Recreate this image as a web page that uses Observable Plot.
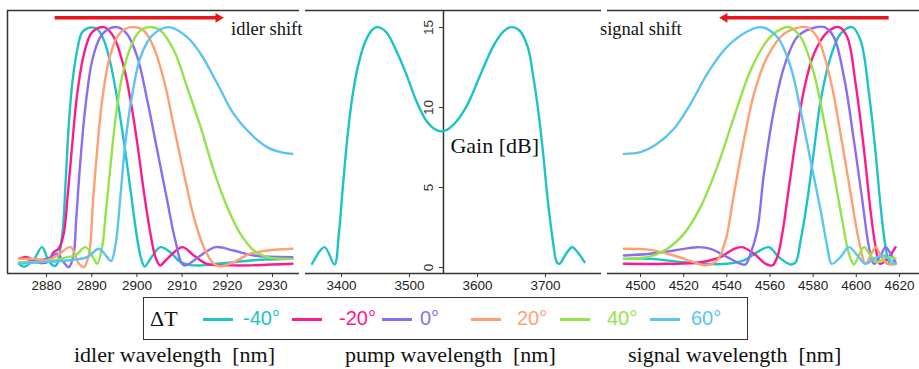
<!DOCTYPE html>
<html><head><meta charset="utf-8">
<script src="https://cdn.jsdelivr.net/npm/d3@7"></script>
<script src="https://cdn.jsdelivr.net/npm/@observablehq/plot@0.6"></script>
<style>
body{margin:0;background:#fff;}
#wrap{position:relative;width:919px;height:369px;overflow:hidden;background:#fff;font-family:"Liberation Sans",Arial,sans-serif;}
.abs{position:absolute;white-space:pre;line-height:1;}
.serif{font-family:"Liberation Serif","Times New Roman",serif;color:#111;}
</style></head><body><div id="wrap"></div>
<script>
// ---- legend / series ----
const seriesNames = ["-40°","-20°","0°","20°","40°","60°"];
const seriesColors = ["#1DC3C6","#FF1A8C","#8C6DF2","#FF9F72","#95E34A","#5CC3F5"];

// ---- tick labels ----
const idlerTicks = [2880,2890,2900,2910,2920,2930];
const pumpTicks = [3400,3500,3600,3700];
const signalTicks = [4500,4520,4540,4560,4580,4600,4620];
const gainTicks = [0,5,10,15];

// ---- idler panel (nm, dB) ----
const idlerX_m40 = [2873.9,2875.0,2877.2,2879.0,2880.6,2882.0,2883.5,2884.2,2884.9,2885.7,2886.8,2887.9,2889.7,2891.2,2892.7,2894.2,2895.6,2897.1,2898.6,2899.7,2900.8,2901.7,2903.0,2905.2,2907.4,2909.6,2911.9,2914.1,2917.8,2921.4,2925.1,2928.8,2934.4];
const idlerY_m40 = [0.23,0.05,0.5,1.27,0.35,0.1,2.1,5.2,8.8,11.5,13.6,14.7,15.0,14.9,14.2,12.7,10.6,7.9,4.8,2.5,0.7,0.06,0.55,1.27,0.95,0.35,0.15,0.13,0.23,0.33,0.44,0.5,0.55];
const idlerX_m20 = [2873.9,2875.7,2877.9,2880.1,2881.6,2882.7,2883.8,2884.6,2885.7,2886.8,2888.3,2890.1,2892.7,2894.9,2897.1,2898.6,2900.1,2901.5,2903.0,2904.1,2905.1,2906.7,2910.0,2912.6,2915.5,2921.4,2934.4];
const idlerY_m20 = [0.54,0.65,0.33,0.33,0.96,1.17,2.1,4.19,7.73,10.86,13.36,14.71,15.02,14.4,12.52,10.44,7.73,4.81,2.1,0.65,0.13,0.54,1.27,0.75,0.23,0.13,0.23];
const idlerX_0 = [2873.9,2877.2,2880.1,2882.4,2883.8,2884.9,2885.9,2886.6,2887.5,2888.6,2890.1,2891.9,2893.8,2895.6,2897.8,2900.1,2902.3,2904.5,2906.7,2908.5,2910.4,2914.1,2917.4,2921.4,2925.9,2934.4];
const idlerY_0 = [0.23,0.44,0.54,0.86,0.33,0.02,0.65,3.15,6.69,10.02,12.94,14.4,14.92,15.02,14.6,13.15,10.44,7.32,4.19,1.69,0.13,0.75,1.27,1.06,0.75,0.65];
const idlerX_20 = [2873.9,2877.2,2880.1,2882.4,2885.3,2887.2,2888.3,2889.4,2890.3,2891.2,2892.3,2893.8,2895.6,2897.5,2899.2,2901.5,2903.7,2906.0,2908.2,2910.4,2912.6,2914.8,2917.0,2918.5,2921.4,2925.1,2928.8,2934.4];
const idlerY_20 = [0.54,0.54,0.44,0.75,1.27,0.23,0.02,0.86,4.19,7.32,10.44,12.94,14.4,14.92,15.02,14.81,13.77,11.69,8.77,5.86,3.15,1.27,0.23,0.08,0.33,0.86,1.06,1.17];
const idlerX_40 = [2873.9,2877.9,2881.6,2884.6,2886.4,2888.6,2890.5,2891.2,2892.3,2893.1,2894.2,2895.3,2896.7,2898.6,2900.4,2902.6,2905.2,2908.2,2911.1,2914.1,2917.0,2920.0,2922.9,2925.9,2928.8,2934.4];
const idlerY_40 = [0.33,0.33,0.44,0.65,0.75,1.27,0.54,0.23,1.27,3.36,6.48,9.4,11.9,13.77,14.71,15.02,14.81,13.56,11.27,8.77,6.06,3.77,2.1,1.06,0.65,0.54];
const idlerX_60 = [2873.9,2878.7,2884.6,2889.0,2891.6,2893.4,2894.3,2895.3,2896.4,2897.5,2899.0,2900.8,2903.4,2907.1,2911.1,2914.1,2917.8,2921.4,2925.1,2928.8,2931.8,2934.4];
const idlerY_60 = [0.23,0.33,0.44,0.65,1.17,0.65,0.4,1.48,4.6,7.94,10.86,13.15,14.5,15.02,14.4,13.36,11.48,9.6,8.36,7.52,7.21,7.1];

// ---- pump panel ----
const pumpX = [3356.9,3375.0,3389.7,3396.1,3402.0,3409.3,3416.7,3424.0,3433.8,3443.6,3452.0,3465.7,3480.4,3495.1,3509.8,3524.5,3539.2,3550.0,3563.7,3583.3,3602.9,3622.5,3637.3,3649.5,3661.8,3674.0,3681.4,3688.7,3696.1,3703.4,3710.8,3716.7,3720.6,3730.4,3739.2,3749.0,3757.4];
const pumpY = [0.23,1.27,0.19,2.1,5.02,8.36,10.86,12.52,13.98,14.77,15.02,14.71,13.56,12.1,10.44,9.19,8.6,8.52,8.88,10.02,11.9,13.77,14.71,15.02,14.81,13.77,12.1,10.02,7.32,4.19,1.69,0.33,0.23,0.86,1.27,0.86,0.33];

// ---- signal panel ----
const signalX_m40 = [4492.3,4504.6,4520.1,4527.8,4540.2,4547.9,4554.1,4559.5,4564.1,4569.6,4571.9,4574.2,4577.3,4580.4,4583.5,4588.1,4592.7,4598.1,4602.0,4605.9,4609.0,4611.3,4613.6,4615.6,4618.2];
const signalY_m40 = [0.54,0.54,0.33,0.23,0.23,0.44,0.96,1.27,0.65,0.19,0.33,1.69,4.19,7.32,10.44,13.15,14.6,15.02,14.19,10.86,7.1,3.77,1.27,0.23,0.23];
const signalX_m20 = [4492.3,4512.4,4527.8,4537.1,4543.3,4547.1,4552.6,4558.0,4561.1,4563.4,4565.7,4568.8,4571.9,4575.7,4580.4,4586.6,4592.0,4595.8,4599.7,4603.6,4606.6,4609.0,4611.0,4614.4,4618.2];
const signalY_m20 = [0.23,0.23,0.33,0.65,1.17,1.27,0.86,0.23,0.13,0.65,2.1,5.02,7.94,11.06,13.36,14.71,15.02,14.4,11.48,7.32,3.56,1.27,0.23,0.54,1.27];
const signalX_0 = [4492.3,4504.6,4515.5,4526.3,4532.5,4540.2,4546.4,4548.7,4551.0,4554.1,4557.2,4561.8,4566.5,4572.6,4578.8,4585.3,4589.6,4594.3,4598.9,4602.8,4605.9,4608.2,4611.3,4613.6,4615.9,4618.2];
const signalY_0 = [0.75,0.86,1.06,1.27,1.17,0.65,0.23,0.19,0.86,2.31,5.86,9.81,12.52,14.4,14.92,15.02,14.4,11.9,7.94,4.19,1.27,0.23,0.75,1.27,0.86,0.33];
const signalX_20 = [4492.3,4504.6,4515.5,4524.7,4530.1,4535.5,4539.4,4543.3,4547.9,4552.6,4558.7,4566.5,4576.8,4581.9,4588.1,4592.7,4597.4,4601.2,4604.3,4606.6,4609.0,4611.3,4614.4,4618.2];
const signalY_20 = [1.17,1.1,0.75,0.33,0.13,0.44,1.69,4.6,7.94,10.86,13.15,14.6,15.02,14.4,11.69,8.36,4.6,1.69,0.23,0.75,1.27,0.75,0.23,0.23];
const signalX_40 = [4492.3,4504.6,4512.4,4520.1,4527.8,4535.5,4543.3,4551.0,4558.7,4563.4,4568.8,4574.2,4580.4,4585.0,4589.6,4593.5,4596.6,4598.9,4601.2,4603.6,4606.6,4609.7,4614.4,4618.2];
const signalY_40 = [0.54,0.69,1.17,2.1,3.77,6.27,9.4,12.31,14.19,14.77,15.02,14.4,12.1,9.19,5.86,2.94,0.86,0.19,0.75,1.27,0.75,0.33,0.65,0.54];
const signalX_60 = [4492.3,4500.0,4507.7,4515.5,4523.2,4530.9,4538.6,4546.4,4555.6,4563.4,4569.6,4574.2,4578.8,4583.5,4586.6,4588.6,4592.7,4596.6,4600.5,4604.3,4608.2,4612.8,4615.9,4618.2];
const signalY_60 = [7.1,7.21,7.73,8.67,10.23,12.1,13.56,14.5,15.02,14.4,12.52,9.81,6.69,3.56,1.27,0.23,0.65,1.27,0.75,0.23,0.54,0.75,0.44,0.23];

// ---- annotation arrows (nm, dB); head at x2 ----
const idlerArrow = [{x1: 2881.8, x2: 2918.0, y: 15.6, dir: 90}];
const signalArrow = [{x1: 4615.0, x2: 4539.0, y: 15.6, dir: -90}];

// ---------------------------------------------------------------
const wrap = document.getElementById("wrap");
const H = 300, TOP = 10, BOTTOM_Y = 273;
const yDomain = [-0.375, 16.06];
const axisColor = "#333";
const red = "#E5161C";

const rows = (xs, ys) => xs.map((x, i) => ({x, y: ys[i]}));
const idlerSets = [[idlerX_m40,idlerY_m40],[idlerX_m20,idlerY_m20],[idlerX_0,idlerY_0],[idlerX_20,idlerY_20],[idlerX_40,idlerY_40],[idlerX_60,idlerY_60]];
const signalSets = [[signalX_m40,signalY_m40],[signalX_m20,signalY_m20],[signalX_0,signalY_0],[signalX_20,signalY_20],[signalX_40,signalY_40],[signalX_60,signalY_60]];

function lineMarks(sets) {
  return sets.map(([xs, ys], i) => Plot.line(rows(xs, ys), {x: "x", y: "y", stroke: seriesColors[i], strokeWidth: 2.4, curve: "catmull-rom"}));
}
function arrowMarks(data) {
  return [
    Plot.link(data, {x1: "x1", x2: "x2", y1: "y", y2: "y", stroke: red, strokeWidth: 3.5}),
    Plot.dot(data, {x: "x2", y: "y", symbol: "triangle", rotate: "dir", r: 3.6, fill: red, stroke: null})
  ];
}

function panel({left, width, mL, mR, xDomain, ticks, marks, frameLeft}) {
  const p = Plot.plot({
    width, height: H,
    marginLeft: mL, marginRight: mR, marginTop: TOP, marginBottom: H - BOTTOM_Y,
    x: {domain: xDomain},
    y: {domain: yDomain, axis: null},
    style: {background: "transparent", overflow: "visible", fontFamily: "'Liberation Sans', Arial, sans-serif"},
    marks: [
      Plot.axisX({ticks, tickFormat: "d", tickSize: 4, tickPadding: 3, fontSize: 13.5, fill: "#222", stroke: axisColor, label: null}),
      ...(frameLeft ? [Plot.ruleX([xDomain[0]], {stroke: axisColor, strokeWidth: 1.5})] : []),
      ...marks,
      Plot.ruleY([yDomain[1]], {stroke: axisColor, strokeWidth: 1.5}),
      Plot.ruleY([yDomain[0]], {stroke: axisColor, strokeWidth: 1.5})
    ]
  });
  p.style.position = "absolute";
  p.style.left = left + "px";
  p.style.top = "0px";
  wrap.appendChild(p);
}

// left: idler
panel({left: 0, width: 302, mL: 7, mR: 3, xDomain: [2871.37, 2935.97], ticks: idlerTicks, frameLeft: true,
  marks: [...lineMarks(idlerSets), ...arrowMarks(idlerArrow)]});

// middle: pump
panel({left: 302, width: 302, mL: 3, mR: 3, xDomain: [3347.1, 3782.4], ticks: pumpTicks,
  marks: [
    Plot.ruleX([3550], {stroke: axisColor, strokeWidth: 1.5}),
    Plot.line(rows(pumpX, pumpY), {x: "x", y: "y", stroke: seriesColors[0], strokeWidth: 2.4, curve: "catmull-rom"}),
    Plot.text(["Gain [dB]"], {x: 3550, y: 7.6, text: d => d, dx: 7, textAnchor: "start", fontSize: 22, fontFamily: "'Liberation Serif', 'Times New Roman', serif", fill: "#111"})
  ]});

// right: signal
panel({left: 604, width: 315, mL: 3, mR: 0, xDomain: [4484.7, 4629.3], ticks: signalTicks,
  marks: [...lineMarks(signalSets), ...arrowMarks(signalArrow)]});

// y axis of the middle panel (Gain)
const ya = Plot.plot({
  width: 40, height: H, marginLeft: 32, marginRight: 7, marginTop: TOP, marginBottom: H - BOTTOM_Y,
  y: {domain: yDomain},
  style: {background: "transparent", overflow: "visible", fontFamily: "'Liberation Sans', Arial, sans-serif"},
  marks: [Plot.axisY({ticks: gainTicks, tickSize: 4, tickPadding: 7, tickRotate: -90, fontSize: 13.5, fill: "#333", stroke: axisColor, label: null, anchor: "left"})]
});
ya.style.position = "absolute";
ya.style.left = (443 - 32) + "px";
ya.style.top = "0px";
wrap.appendChild(ya);

// ---- HTML texts ----
function addText(txt, left, top, cls, css) {
  const d = document.createElement("div");
  d.className = "abs " + cls;
  d.textContent = txt;
  Object.assign(d.style, {left: left + "px", top: top + "px"}, css || {});
  wrap.appendChild(d);
  return d;
}
addText("idler shift", 231, 20, "serif", {fontSize: "18.5px"});
addText("signal shift", 600, 20, "serif", {fontSize: "18.5px"});

// legend box
const box = document.createElement("div");
Object.assign(box.style, {position: "absolute", left: "143px", top: "297px", width: "603px", height: "41px", border: "1.5px solid #333"});
wrap.appendChild(box);
addText("ΔT", 150, 308, "serif", {fontSize: "22px"});
const legLine = [203, 292, 382, 471, 560, 650];
const legText = [243, 339, 420, 517, 607, 691];
seriesNames.forEach((s, i) => {
  const l = document.createElement("div");
  Object.assign(l.style, {position: "absolute", left: legLine[i] + "px", top: "318px", width: "30px", height: "2.5px", background: seriesColors[i]});
  wrap.appendChild(l);
  addText(s, legText[i], 308, "", {fontSize: "20px", color: seriesColors[i]});
});

// axis titles
addText("idler wavelength  [nm]", 74, 344, "serif", {fontSize: "22px"});
addText("pump wavelength  [nm]", 345, 344, "serif", {fontSize: "22px"});
addText("signal wavelength  [nm]", 628, 344, "serif", {fontSize: "22px"});
</script></body></html>
